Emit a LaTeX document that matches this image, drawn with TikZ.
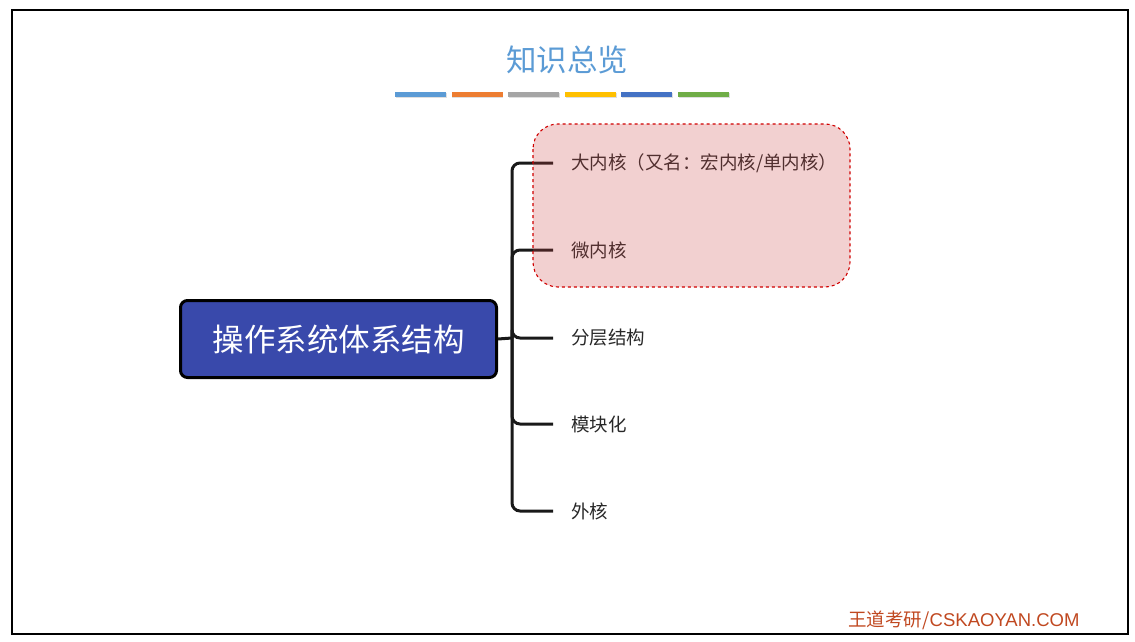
\documentclass[tikz,border=0pt]{standalone}
\usepackage{fontspec}
\setmainfont{Noto Sans CJK SC}
\newfontfamily\wdfont{Liberation Sans}
\definecolor{titleblue}{RGB}{91,155,213}
\definecolor{barblue}{RGB}{91,155,213}
\definecolor{barorange}{RGB}{237,125,49}
\definecolor{bargray}{RGB}{165,165,165}
\definecolor{baryellow}{RGB}{255,192,0}
\definecolor{bardblue}{RGB}{68,114,196}
\definecolor{bargreen}{RGB}{112,173,71}
\definecolor{rootblue}{RGB}{57,73,171}
\definecolor{leafgray}{RGB}{40,40,40}
\definecolor{linegray}{RGB}{25,25,25}
\definecolor{hlred}{RGB}{204,68,68}
\definecolor{dashred}{RGB}{208,0,0}
\definecolor{markred}{RGB}{192,72,32}
\usetikzlibrary{positioning,shadows}

\begin{document}
\begin{tikzpicture}[x=1pt,y=-1pt,
    every node/.style={font=\fontsize{18.5}{20}\selectfont,text=leafgray},
    rootbox/.style={draw=black,line width=3pt,fill=rootblue,
                    rounded corners=7pt,minimum width=316pt,
                    minimum height=77pt,text=white,
                    font=\fontsize{31.5}{34}\selectfont},
    leaf/.style={anchor=west,inner sep=0pt},
    branch/.style={line width=3pt,draw=linegray,rounded corners=8pt},
    bar/.style={minimum width=51pt,minimum height=5pt,inner sep=0pt,
                drop shadow={opacity=0.25,shadow xshift=0.8pt,
                             shadow yshift=-1.2pt}},
    hilite/.style={draw=dashred,line width=1.1pt,dashed,
                   rounded corners=25pt,fill=hlred,fill opacity=0.25}]
  \useasboundingbox (0,0) rectangle (1135,642);
  \draw[line width=2pt] (12,10) rectangle (1128,634);

  % title and colour bars
  \node[font=\fontsize{30.5}{32}\selectfont,text=titleblue]
        (title) at (567,60) {知识总览};
  \foreach \c [count=\i] in {barblue,barorange,bargray,baryellow,bardblue,bargreen}
    \node[bar,fill=\c] (bar\i) at (420.5+56.6*\i-56.6,94.5) {};

  % root and leaves
  \node[rootbox] (root) at (338.5,339) {操作系统体系结构};
  \coordinate (trunk) at (512,338);
  \node[leaf] (bigk)  at (571,163) {大内核（又名：宏内核/单内核）};
  \node[leaf] (micro) at (571,250) {微内核};
  \node[leaf] (layer) at (571,338) {分层结构};
  \node[leaf] (modul) at (571,424) {模块化};
  \node[leaf] (exok)  at (571,511) {外核};

  \draw[branch] (root.east) -- (trunk);
  \foreach \n in {bigk,micro,layer,modul,exok}
    \draw[branch] (trunk) |- ([xshift=-18pt]\n.west);

  % highlight of the kernel kinds
  \draw[hilite] (533,124) rectangle (850,287);

  \node[anchor=east,text=markred,font=\fontsize{18.5}{20}\selectfont]
        (mark) at (1083,620) {王道考研/{\wdfont CSKAOYAN.COM}};
\end{tikzpicture}
\end{document}
